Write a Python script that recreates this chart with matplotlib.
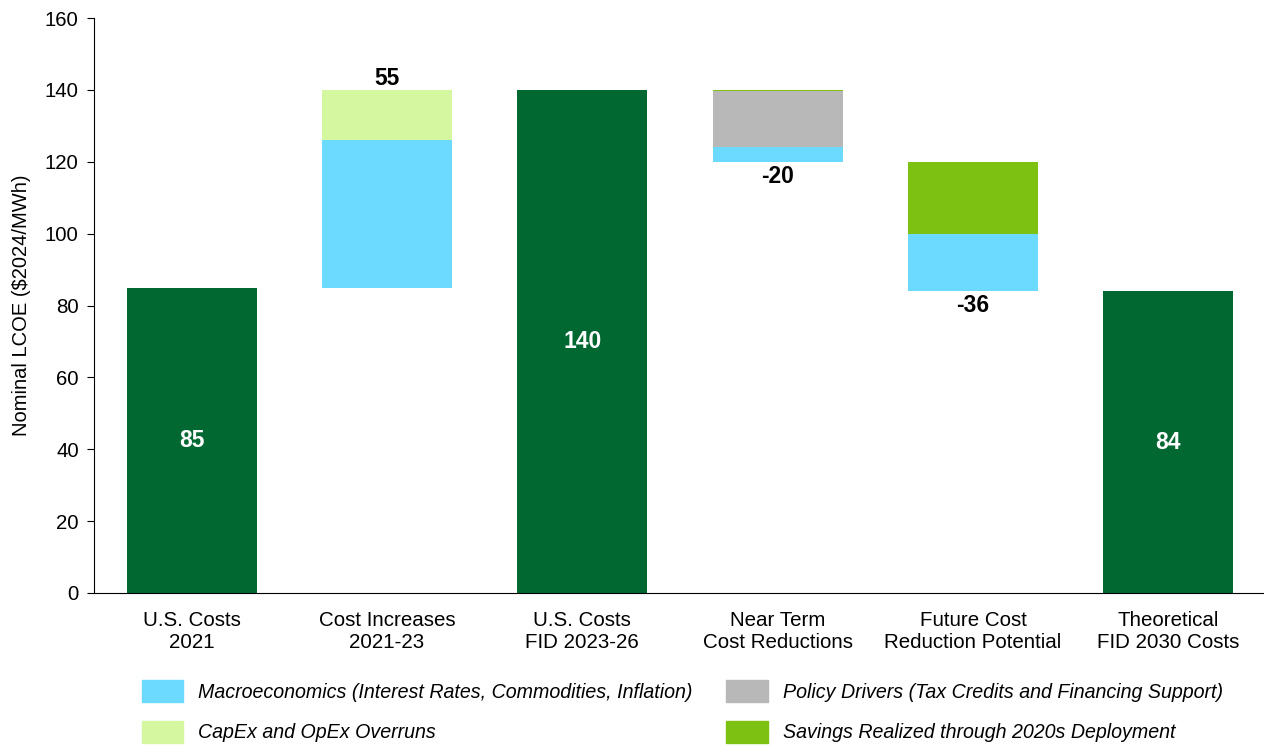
import matplotlib
matplotlib.use("Agg")
import matplotlib.pyplot as plt
from matplotlib.patches import Patch
import numpy as np

plt.rcParams['font.family'] = ['Liberation Sans', 'DejaVu Sans']

categories = ["U.S. Costs\n2021", "Cost Increases\n2021-23", "U.S. Costs\nFID 2023-26",
              "Near Term\nCost Reductions", "Future Cost\nReduction Potential",
              "Theoretical\nFID 2030 Costs"]
is_total = [True, False, True, False, False, True]
totals = [85, 0, 140, 0, 0, 84]
macro = [0, 41, 0, -4.2, -16, 0]
capex = [0, 14, 0, 0, 0, 0]
policy = [0, 0, 0, -15.5, 0, 0]
savings = [0, 0, 0, -0.3, -20, 0]

legend_labels = ["Macroeconomics (Interest Rates, Commodities, Inflation)",
                 "CapEx and OpEx Overruns",
                 "Policy Drivers (Tax Credits and Financing Support)",
                 "Savings Realized through 2020s Deployment"]

c_total = "#006830"
c_macro = "#6CDAFF"
c_capex = "#D5F7A0"
c_policy = "#B8B8B8"
c_sav = "#7DC212"

fig = plt.figure(figsize=(12.64, 7.46), dpi=100)
ax = fig.add_axes([94/1264, 1-593/746, 1170/1264, 575/746])

x = np.arange(len(categories))
w = 0.666
running = 0
for i in range(len(categories)):
    if is_total[i]:
        ax.bar(x[i], totals[i], width=w, color=c_total)
        ax.text(x[i], totals[i]/2, f"{totals[i]:.0f}", ha='center', va='center',
                color='white', fontsize=16.5, fontweight='bold')
        running = totals[i]
    else:
        comps = [(macro[i], c_macro), (capex[i], c_capex), (policy[i], c_policy), (savings[i], c_sav)]
        delta = sum(v for v, _ in comps)
        start = running if delta > 0 else running + delta
        b = start
        for v, c in comps:
            if v != 0:
                ax.bar(x[i], abs(v), bottom=b, width=w, color=c)
                b += abs(v)
        if delta > 0:
            ax.text(x[i], running + delta + 0.1, f"{delta:.0f}", ha='center', va='bottom',
                    fontsize=16.5, fontweight='bold')
        else:
            ax.text(x[i], running + delta - 0.8, f"{delta:.0f}", ha='center', va='top',
                    fontsize=16.5, fontweight='bold')
        running += delta

ax.set_xlim(-0.5, 5.49)
ax.set_ylim(0, 160)
ax.set_yticks(np.arange(0, 161, 20))
ax.set_xticks(x)
ax.set_xticklabels(categories, fontsize=14.8, linespacing=1.2)
ax.tick_params(axis='x', length=0, pad=13)
ax.tick_params(axis='y', labelsize=14.7, length=5, direction='out', pad=6)
ax.spines['top'].set_visible(False)
ax.spines['right'].set_visible(False)
ax.set_ylabel("Nominal LCOE ($2024/MWh)", fontsize=14.5, labelpad=10)

handles = [Patch(color=c_macro), Patch(color=c_capex), Patch(color=c_policy), Patch(color=c_sav)]
fig.legend(handles, legend_labels, loc='upper left', bbox_to_anchor=(142/1264, 1-680/746),
           ncol=2, frameon=False, prop={'style': 'italic', 'size': 14.1},
           handlelength=2.1, handleheight=1.35, handletextpad=0.77, columnspacing=1.73,
           labelspacing=0.95, borderpad=0, borderaxespad=0)

fig.savefig("out.png", dpi=100)
